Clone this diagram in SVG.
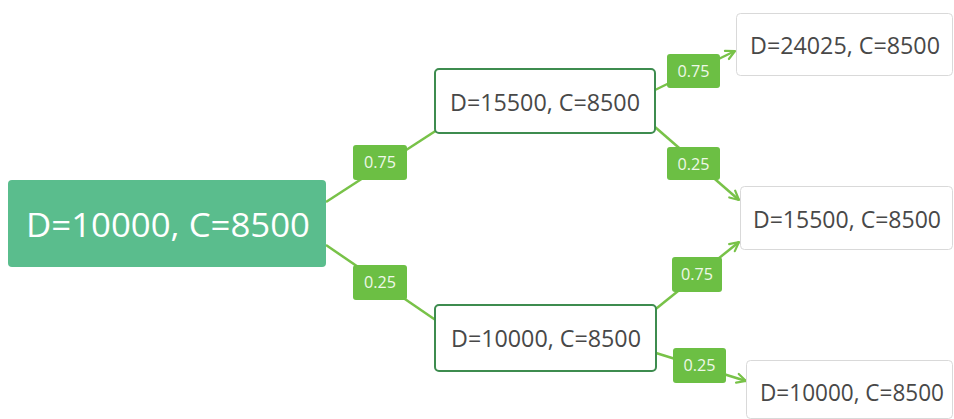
<svg xmlns="http://www.w3.org/2000/svg" width="954" height="419" viewBox="0 0 954 419">
  <defs>
    <marker id="arrow" viewBox="0 0 12 12" refX="10.5" refY="6" markerWidth="12" markerHeight="12" markerUnits="userSpaceOnUse" orient="auto">
      <path d="M1.5,1.5 L10.5,6 L1.5,10.5" fill="none" stroke="#78c248" stroke-width="2.2" stroke-linecap="round" stroke-linejoin="round"/>
    </marker>
    <style>
      .edge { stroke: #78c248; stroke-width: 2.5; fill: none; }
      .tag rect { fill: #6cbf44; }
      .tag text { fill: #eef8e8; font-family: "Open Sans", "Liberation Sans", sans-serif; font-size: 16px; text-anchor: middle; }
      .mid rect { fill: #ffffff; stroke: #3d8c4f; stroke-width: 2; }
      .leaf rect { fill: #ffffff; stroke: #d9d9d9; stroke-width: 1; }
      .node text { fill: #484848; font-family: "Open Sans", "Liberation Sans", sans-serif; font-size: 23.5px; }
      .root rect { fill: #5abd8d; }
      .root text { fill: #ffffff; font-family: "Open Sans", "Liberation Sans", sans-serif; font-size: 33px; }
    </style>
  </defs>
  <rect width="954" height="419" fill="#ffffff"/>

  <!-- connectors -->
  <g id="connectors">
    <line class="edge" x1="326" y1="202" x2="437" y2="130"/>
    <line class="edge" x1="326" y1="245" x2="437" y2="321"/>
    <line class="edge" x1="655" y1="90" x2="735" y2="51" marker-end="url(#arrow)"/>
    <line class="edge" x1="655" y1="127" x2="739" y2="200" marker-end="url(#arrow)"/>
    <line class="edge" x1="652" y1="312" x2="739" y2="242" marker-end="url(#arrow)"/>
    <line class="edge" x1="656" y1="353" x2="746" y2="381" marker-end="url(#arrow)"/>

    <g class="tag"><rect x="353" y="145" width="54" height="35" rx="3"/><text x="380" y="168" textLength="32" lengthAdjust="spacingAndGlyphs">0.75</text></g>
    <g class="tag"><rect x="353" y="265" width="54" height="35" rx="3"/><text x="380" y="288" textLength="32" lengthAdjust="spacingAndGlyphs">0.25</text></g>
    <g class="tag"><rect x="667" y="54" width="53" height="34" rx="3"/><text x="693.5" y="77" textLength="32" lengthAdjust="spacingAndGlyphs">0.75</text></g>
    <g class="tag"><rect x="667" y="147" width="53" height="33" rx="3"/><text x="693.5" y="169.5" textLength="32" lengthAdjust="spacingAndGlyphs">0.25</text></g>
    <g class="tag"><rect x="672" y="257" width="50" height="35" rx="3"/><text x="697" y="280" textLength="32" lengthAdjust="spacingAndGlyphs">0.75</text></g>
    <g class="tag"><rect x="673" y="348" width="53" height="35" rx="3"/><text x="699.5" y="371" textLength="32" lengthAdjust="spacingAndGlyphs">0.25</text></g>
  </g>

  <!-- root -->
  <g id="root" class="node root">
    <rect x="8" y="180" width="318" height="87" rx="4"/>
    <text x="26" y="237" textLength="284" lengthAdjust="spacingAndGlyphs">D=10000, C=8500</text>
  </g>

  <!-- second level -->
  <g id="up" class="node mid">
    <rect x="435" y="69" width="220" height="64" rx="4"/>
    <text x="450" y="111" textLength="190" lengthAdjust="spacingAndGlyphs">D=15500, C=8500</text>
  </g>
  <g id="down" class="node mid">
    <rect x="435" y="305" width="221" height="66" rx="4"/>
    <text x="451" y="347" textLength="190" lengthAdjust="spacingAndGlyphs">D=10000, C=8500</text>
  </g>

  <!-- leaves -->
  <g id="upup" class="node leaf">
    <rect x="736.5" y="13.5" width="216" height="62" rx="4"/>
    <text x="750" y="54" textLength="190" lengthAdjust="spacingAndGlyphs">D=24025, C=8500</text>
  </g>
  <g id="updown" class="node leaf">
    <rect x="740.5" y="186.5" width="212" height="63" rx="4"/>
    <text x="753" y="228" textLength="188" lengthAdjust="spacingAndGlyphs">D=15500, C=8500</text>
  </g>
  <g id="downdown" class="node leaf">
    <rect x="746.5" y="360.5" width="206" height="58" rx="4"/>
    <text x="760" y="401" textLength="184" lengthAdjust="spacingAndGlyphs">D=10000, C=8500</text>
  </g>
</svg>
